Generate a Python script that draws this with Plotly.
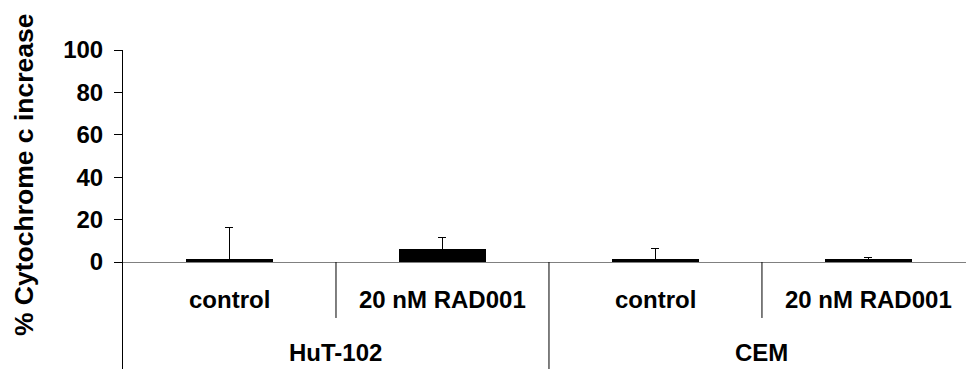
import plotly.graph_objects as go

# ---- data ----
groups = ["HuT-102", "HuT-102", "CEM", "CEM"]
conditions = ["control", "20 nM RAD001", "control", "20 nM RAD001"]
values = [1.2, 6.0, 1.2, 1.2]
errors = [15.0, 5.5, 5.4, 0.8]
y_tickvals = [0, 20, 40, 60, 80, 100]
y_title = "% Cytochrome c increase"

FONT = "Arial, 'Liberation Sans', Helvetica, sans-serif"
x_pos = list(range(len(values)))

fig = go.Figure()
fig.add_trace(go.Bar(
    x=x_pos, y=values, width=0.41,
    marker=dict(color="black", line=dict(width=0)),
    error_y=dict(type="data", array=errors, symmetric=False, arrayminus=[0] * len(values),
                 color="black", thickness=1, width=4),
    showlegend=False,
))

# sub-category labels and separators
for i, c in enumerate(conditions):
    fig.add_annotation(x=i, y=-17.9, xref="x", yref="y", text=f"<b>{c}</b>",
                       showarrow=False, font=dict(family=FONT, size=24, color="black"),
                       xanchor="center", yanchor="middle")
for i in range(len(conditions) - 1):
    if groups[i] == groups[i + 1]:
        fig.add_shape(type="line", xref="x", yref="y", x0=i + 0.5, x1=i + 0.5,
                      y0=0, y1=-26.4, line=dict(color="black", width=1))
    else:
        fig.add_shape(type="line", xref="x", yref="y", x0=i + 0.5, x1=i + 0.5,
                      y0=0, y1=-52, line=dict(color="black", width=1))

# group labels
uniq = []
for g in groups:
    if g not in uniq:
        uniq.append(g)
for g in uniq:
    idx = [i for i, gg in enumerate(groups) if gg == g]
    fig.add_annotation(x=sum(idx) / len(idx), y=-42.5, xref="x", yref="y", text=f"<b>{g}</b>",
                       showarrow=False, font=dict(family=FONT, size=24, color="black"),
                       xanchor="center", yanchor="middle")

# y title
fig.add_annotation(x=0, xref="paper", xshift=-99, y=41, yref="y", text=f"<b>{y_title}</b>",
                   textangle=-90, showarrow=False, font=dict(family=FONT, size=26.5, color="black"),
                   xanchor="center", yanchor="middle")

fig.update_layout(
    width=966, height=369,
    margin=dict(l=123, r=0, t=50, b=0, pad=0),
    paper_bgcolor="white", plot_bgcolor="white",
    bargap=0,
    xaxis=dict(range=[-0.5, 3.458], showticklabels=False, ticks="", showgrid=False,
               zeroline=False, showline=False),
    yaxis=dict(range=[-50.47, 100], tickvals=y_tickvals,
               ticktext=[f"<b>{v}</b>" for v in y_tickvals],
               tickfont=dict(family=FONT, size=24, color="black"),
               ticks="outside", ticklen=8, tickcolor="black", tickwidth=1,
               showgrid=False, showline=True, linecolor="black", linewidth=1,
               zeroline=True, zerolinecolor="#808080", zerolinewidth=1,
               ticklabelstandoff=6),
)

fig.write_html("out.html")
